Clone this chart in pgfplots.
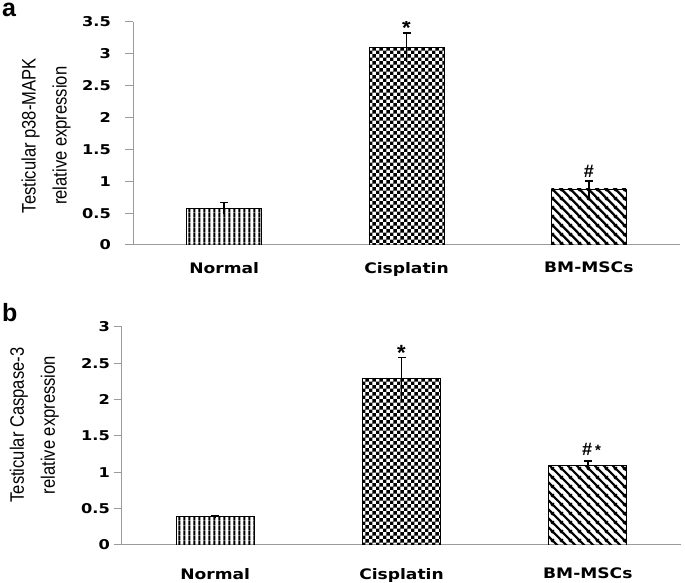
\documentclass[border=0pt]{standalone}
\usepackage{fontspec}
\usepackage{pgfplots}
\pgfplotsset{compat=1.18}
\usetikzlibrary{patterns}
\setmainfont{Liberation Sans}
\newfontfamily\tickfont{DejaVu Sans Bold}[FakeStretch=1.2]
\newfontfamily\catfont{DejaVu Sans Bold}[FakeStretch=1.18]
\newfontfamily\labfont{Liberation Sans}[FakeStretch=0.85]
\newfontfamily\starfont{Liberation Sans Bold}
\definecolor{axgray}{RGB}{155,155,155}

\pgfdeclarepatternformonly{vstripes}{\pgfqpoint{0pt}{0pt}}{\pgfqpoint{4.8pt}{4.8pt}}{\pgfqpoint{4.8pt}{4.8pt}}{%
  \pgfpathrectangle{\pgfqpoint{1.3pt}{0pt}}{\pgfqpoint{2.2pt}{4.8pt}}\pgfusepath{fill}}
\pgfdeclarepatternformonly{checker}{\pgfqpoint{0pt}{0pt}}{\pgfqpoint{7.4pt}{7.4pt}}{\pgfqpoint{7.4pt}{7.4pt}}{%
  \pgfpathrectangle{\pgfqpoint{0pt}{0pt}}{\pgfqpoint{3.7pt}{3.7pt}}%
  \pgfpathrectangle{\pgfqpoint{3.7pt}{3.7pt}}{\pgfqpoint{3.7pt}{3.7pt}}\pgfusepath{fill}}
\pgfdeclarepatternformonly{nwstripes}{\pgfqpoint{0pt}{0pt}}{\pgfqpoint{8.5pt}{8.5pt}}{\pgfqpoint{8.5pt}{8.5pt}}{%
  \pgfsetlinewidth{2.4pt}%
  \pgfpathmoveto{\pgfqpoint{-1pt}{1pt}}\pgfpathlineto{\pgfqpoint{1pt}{-1pt}}%
  \pgfpathmoveto{\pgfqpoint{-1pt}{9.5pt}}\pgfpathlineto{\pgfqpoint{9.5pt}{-1pt}}%
  \pgfpathmoveto{\pgfqpoint{7.5pt}{9.5pt}}\pgfpathlineto{\pgfqpoint{9.5pt}{7.5pt}}%
  \pgfusepath{stroke}}

\pgfplotsset{
  panel/.style={
    scale only axis, ybar, bar shift=0pt,
    every axis plot/.append style={bar shift=0pt},
    xmin=-0.5, xmax=2.5, ymin=0,
    axis x line=bottom, axis y line=left,
    axis line style={axgray, line width=1pt, -},
    xtick={0,1,2}, xticklabels={Normal,Cisplatin,BM-MSCs},
    xtick style={draw=none},
    ytick style={axgray, line width=1pt},
    tick align=outside, major tick length=8pt,
    /pgf/number format/assume math mode=true,
    yticklabel style={font=\tickfont\fontsize{13.5}{15}\selectfont, anchor=east, inner sep=0pt},
    xticklabel style={font=\catfont\fontsize{14.5}{16}\selectfont, anchor=north, inner sep=0pt},
    ylabel style={font=\labfont\fontsize{19.5}{23}\selectfont, align=center, anchor=center},
  },
  bars/.style={draw=black, line width=0.8pt, pattern=#1, pattern color=black,
    error bars/.cd, y dir=plus, y explicit, error mark=-,
    error bar style={draw=black, line width=1.8pt},
    error mark options={rotate=90, draw=black, line width=1.6pt, mark size=4pt}},
  stub/.style={draw=black, draw opacity=0, fill=none, forget plot,
    error bars/.cd, y dir=minus, y explicit, error mark=none,
    error bar style={draw=black, draw opacity=1, line width=1.8pt}},
}

\begin{document}
\begin{tikzpicture}
\useasboundingbox (0,0) rectangle (685pt,583pt);

% ---------- panel a ----------
\begin{axis}[panel,
  at={(133pt,338pt)}, anchor=south west,
  width=547pt, height=223pt, ymax=3.5,
  ytick={0,0.5,1,1.5,2,2.5,3,3.5},
  bar width=75pt,
  yticklabel style={xshift=-14pt},
  xticklabel style={yshift=-9pt},
  ylabel={Testicular p38-MAPK\\[8pt]relative expression},
  ylabel style={at={(axis description cs:-0.159,0.49)}},
]
\addplot[bars=vstripes] coordinates {(0,0.58) +- (0,0.09)};
\addplot[stub] coordinates {(0,0.58) +- (0,0.09)};
\addplot[bars=checker] coordinates {(1,3.10) +- (0,0.23)};
\addplot[stub] coordinates {(1,3.10) +- (0,0.23)};
\addplot[bars=nwstripes] coordinates {(2,0.88) +- (0,0.12)};
\addplot[stub] coordinates {(2,0.88) +- (0,0.12)};
\draw[axgray, line width=1pt] (axis cs:0.5,0) -- ++(0,-5pt);
\draw[axgray, line width=1pt] (axis cs:1.5,0) -- ++(0,-5pt);
\draw[axgray, line width=1pt] (axis cs:2.5,0) -- ++(0,-5pt);
\node[font=\starfont\fontsize{22}{22}\selectfont, anchor=south, inner sep=0pt, yshift=-2.7pt] at (axis cs:1,3.33) {*};
\node[font=\starfont\fontsize{18}{18}\selectfont, anchor=south, inner sep=0pt, yshift=3.5pt] at (axis cs:2,1.00) {\#};
\end{axis}

% ---------- panel b ----------
\begin{axis}[panel,
  at={(122pt,38pt)}, anchor=south west,
  width=559pt, height=218pt, ymax=3,
  ytick={0,0.5,1,1.5,2,2.5,3},
  bar width=78pt,
  yticklabel style={xshift=-4pt},
  xticklabel style={yshift=-15pt},
  ylabel={Testicular Caspase-3\\[8pt]relative expression},
  ylabel style={at={(axis description cs:-0.157,0.55)}},
]
\addplot[bars=vstripes] coordinates {(0,0.39) +- (0,0.01)};
\addplot[stub] coordinates {(0,0.39) +- (0,0.01)};
\addplot[bars=checker] coordinates {(1,2.29) +- (0,0.29)};
\addplot[stub] coordinates {(1,2.29) +- (0,0.29)};
\addplot[bars=nwstripes] coordinates {(2,1.10) +- (0,0.06)};
\addplot[stub] coordinates {(2,1.10) +- (0,0.06)};
\draw[axgray, line width=1pt] (axis cs:0.5,0) -- ++(0,-5pt);
\draw[axgray, line width=1pt] (axis cs:1.5,0) -- ++(0,-5pt);
\draw[axgray, line width=1pt] (axis cs:2.5,0) -- ++(0,-5pt);
\node[font=\starfont\fontsize{22}{22}\selectfont, anchor=south, inner sep=0pt, yshift=-2.7pt] at (axis cs:1,2.58) {*};
\node[font=\starfont\fontsize{18}{18}\selectfont, anchor=south west, inner sep=0pt, yshift=5pt, xshift=-6pt] at (axis cs:2,1.16) {\#\hspace{3pt}{\fontsize{15}{15}\selectfont *}};
\end{axis}

\node[font=\bfseries\fontsize{25}{25}\selectfont, anchor=base west, inner sep=0pt] at (2pt,566pt) {a};
\node[font=\bfseries\fontsize{25}{25}\selectfont, anchor=base west, inner sep=0pt] at (2pt,261pt) {b};
\end{tikzpicture}
\end{document}
